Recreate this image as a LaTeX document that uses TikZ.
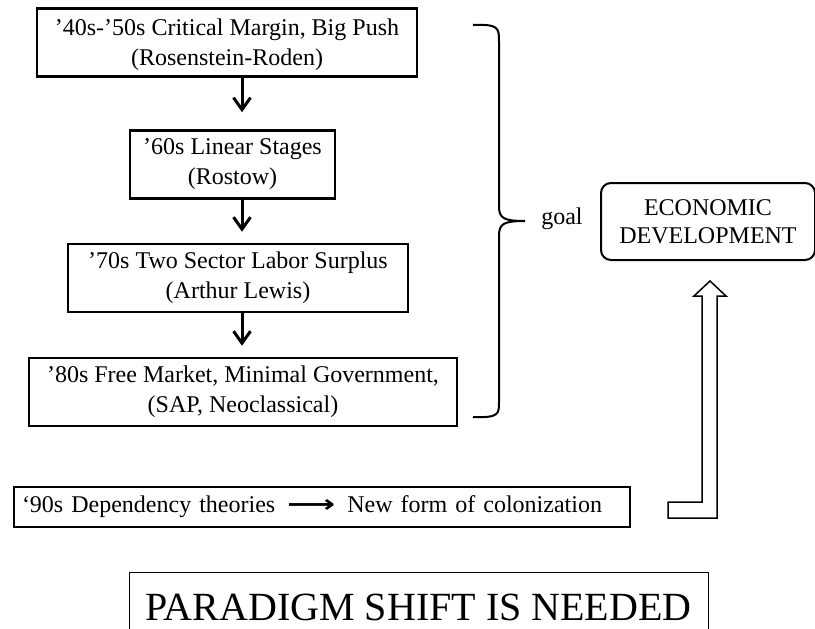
\documentclass[tikz,border=0pt]{standalone}
\usepackage{fontspec}
\setmainfont{Liberation Serif}
\newfontfamily\symfont{DejaVu Sans}
\usetikzlibrary{arrows.meta}

\begin{document}
\begin{tikzpicture}[x=1pt,y=-1pt,
        era/.style={draw,line width=2.5pt,align=center,inner sep=0pt,
            minimum height=68pt,font=\fontsize{24}{30}\selectfont},
        flow/.style={line width=3pt,-{Straight Barb[length=12pt,width=17pt]}}]
    \useasboundingbox (0,0) rectangle (815,629);
    % the four decades
    \node[era,minimum width=380pt] (b40) at (227,42.5)
        {\rule{0pt}{22pt}’40s-’50s Critical Margin, Big Push\\(Rosenstein-Roden)};
    \node[era,minimum width=205pt] (b60) at (232.5,164.5)
        {’60s Linear Stages\\(Rostow)};
    \node[era,minimum width=340pt] (b70) at (238,278)
        {’70s Two Sector Labor Surplus\\(Arthur Lewis)};
    \node[era,minimum width=428pt] (b80) at (243,392)
        {’80s Free Market, Minimal Government,\\(SAP, Neoclassical)};
    \coordinate (ax) at (242,0);
    \draw[flow,shorten >=17pt] (b40.south -| ax) -- (b60.north -| ax);
    \draw[flow,shorten >=11pt] (b60.south -| ax) -- (b70.north -| ax);
    \draw[flow,shorten >=11pt] (b70.south -| ax) -- (b80.north -| ax);
    % brace and goal
    \draw[line width=2pt] (473,25) .. controls (499,24) and (499,28) .. (499,42)
        -- (499,206) .. controls (499,218) and (503,221) .. (525,221)
        .. controls (503,221) and (499,224) .. (499,236)
        -- (499,402) .. controls (499,414) and (499,418) .. (473,417);
    \node[font=\fontsize{24}{29}\selectfont] (goal) at (562,219) {goal};
    \node[draw,rounded corners=10pt,line width=2pt,align=center,inner sep=0pt,
        minimum width=214pt,minimum height=77pt,font=\fontsize{24}{28}\selectfont]
        (econ) at (708,221.5) {ECONOMIC\\DEVELOPMENT};
    % the nineties
    \node[draw,line width=2.5pt,align=left,text width=600pt,inner sep=8pt,
        minimum height=40pt,font=\fontsize{24}{29}\selectfont] (b90) at (322,507)
        {‘90s Dependency theories \,{\symfont\bfseries\scalebox{1.4}[1]{⟶}}\, New form of colonization};
    \draw[line width=1.5pt,fill=white] (668,502) -- (702,502) -- (702,296)
        -- (694,296) -- (710,281) -- (726,296) -- (717,296) -- (717,518)
        -- (668,518) -- cycle;
    % bottom line
    \node[draw,line width=0.8pt,minimum width=579pt,minimum height=70pt,
        font=\fontsize{40}{48}\selectfont] (shift) at (418.5,607)
        {PARADIGM SHIFT IS NEEDED};
\end{tikzpicture}
\end{document}
